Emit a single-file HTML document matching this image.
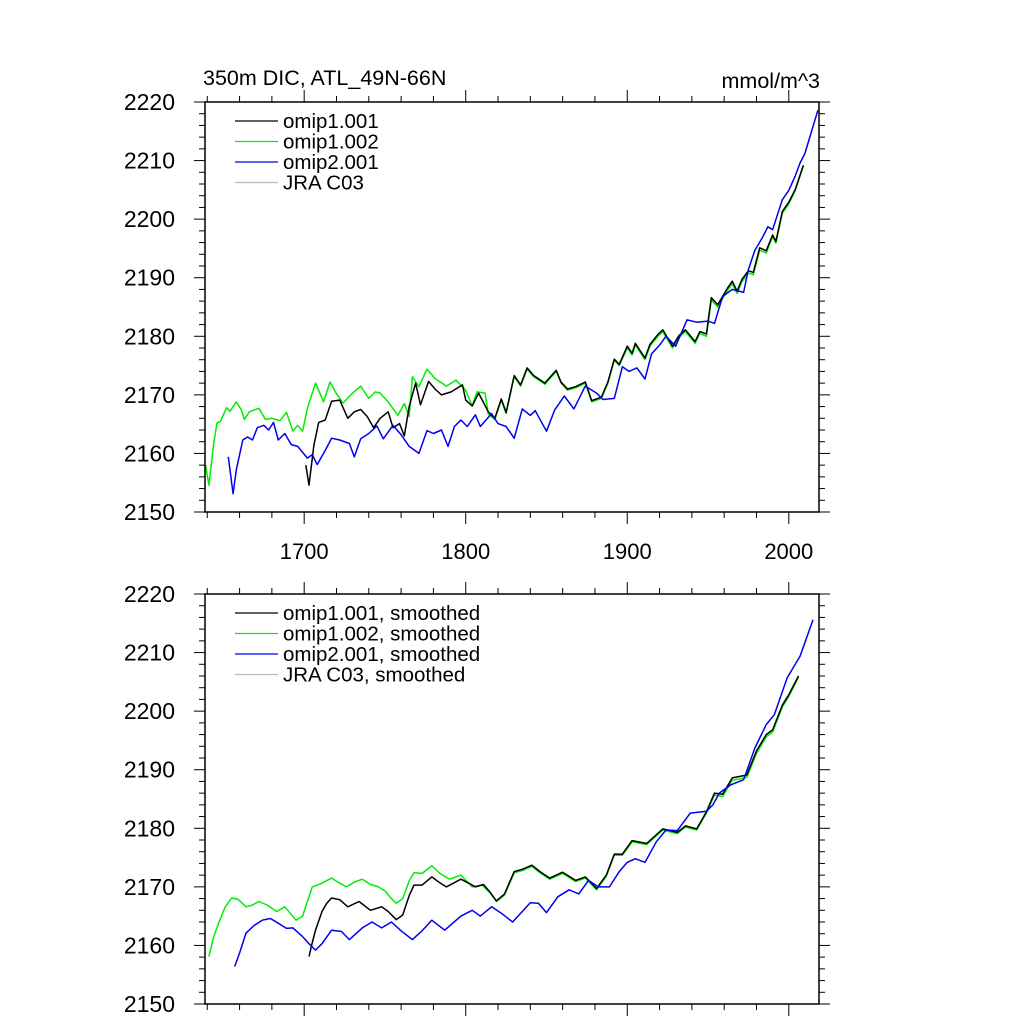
<!DOCTYPE html>
<html><head><meta charset="utf-8"><style>
html,body{margin:0;padding:0;background:#fff}
svg{display:block;font-family:"Liberation Sans",sans-serif}
</style></head><body>
<svg id="chart" width="1024" height="1024" viewBox="0 0 1024 1024" xmlns="http://www.w3.org/2000/svg">
<text x="203" y="85" font-size="21.5">350m DIC, ATL_49N-66N</text>
<text x="820" y="88" font-size="21.5" text-anchor="end">mmol/m^3</text>
</svg>
<script>
// ---- data ----
const yTicks = [2150,2160,2170,2180,2190,2200,2210,2220];
const xTicks = [1700,1800,1900,2000];
const legendTop = ["omip1.001","omip1.002","omip2.001","JRA C03"];
const legendBottom = ["omip1.001, smoothed","omip1.002, smoothed","omip2.001, smoothed","JRA C03, smoothed"];

const greenRawYears = [1639,1641,1644,1646,1648,1652,1654,1658,1661,1663,1666,1672,1676,1680,1685,1689,1693,1696,1699,1702,1707,1712,1716,1720,1724,1730,1735,1740,1744,1747,1752,1758,1762,1765,1767,1771,1776,1781,1788,1794,1800,1804,1807,1812,1814,1818,1822,1825,1830,1834,1838,1842,1849,1856,1859,1863,1868,1874,1878,1884,1888,1892,1895,1900,1903,1905,1911,1914,1919,1922,1928,1932,1936,1942,1945,1949,1952,1956,1962,1965,1968,1971,1975,1978,1982,1986,1990,1992,1996,2000,2004,2009];
const greenRawValues = [2158,2154.6,2161.7,2165.2,2165.4,2167.8,2167.2,2168.8,2167.5,2165.8,2167.1,2167.7,2165.8,2166,2165.6,2167,2163.8,2164.8,2163.8,2167.7,2172,2168.8,2172.2,2170.2,2168.6,2170.3,2171.5,2169.4,2170.5,2170.3,2168.8,2166.5,2168.5,2166.3,2173.1,2171.4,2174.4,2172.8,2171.5,2172.5,2170.8,2168.1,2170.5,2170.3,2166.7,2165.8,2169.1,2166.8,2173.1,2171.5,2174.4,2173.1,2171.8,2174,2172,2170.8,2171.2,2172,2168.8,2169.4,2172,2175.9,2175,2178,2176.8,2178.5,2176,2178.3,2180,2180.8,2178,2179.8,2180.8,2178.8,2180.5,2180,2186.2,2185,2187.8,2189,2187.3,2189.3,2190.8,2190.5,2194.7,2194.2,2197,2195.9,2201,2202.6,2204.9,2209];

const blackRawYears = [1701,1703,1706,1709,1713,1717,1722,1727,1731,1735,1739,1743,1747,1752,1755,1759,1762,1765,1769,1772,1777,1781,1785,1791,1798,1800,1804,1808,1814,1818,1822,1825,1830,1834,1838,1842,1849,1856,1859,1863,1868,1874,1878,1884,1888,1892,1895,1900,1903,1905,1911,1914,1919,1922,1928,1932,1936,1942,1945,1949,1952,1956,1962,1965,1968,1971,1975,1978,1982,1986,1990,1992,1996,2000,2004,2009];
const blackRawValues = [2158,2154.6,2161.4,2165.3,2165.7,2168.9,2169.1,2166,2167.1,2167.5,2166.3,2164.4,2166,2167.1,2164.4,2165.1,2163,2168,2172,2168.3,2172.3,2171,2170,2170.5,2171.7,2169.1,2168.1,2170.3,2167.1,2166,2169.3,2167,2173.3,2171.7,2174.6,2173.3,2172,2174.2,2172.2,2171,2171.4,2172.2,2169,2169.6,2172.2,2176.1,2175.2,2178.3,2177.1,2178.8,2176.3,2178.6,2180.3,2181.1,2178.3,2180.1,2181.1,2179.1,2180.8,2180.4,2186.6,2185.4,2188.2,2189.4,2187.7,2189.7,2191.2,2190.9,2195.1,2194.6,2197.3,2196.2,2201.3,2202.9,2205.1,2209.2];

const blueRawYears = [1653,1656,1658,1662,1665,1668,1671,1675,1678,1681,1684,1688,1692,1696,1702,1705,1708,1713,1717,1722,1728,1731,1735,1740,1745,1749,1755,1760,1765,1771,1776,1780,1785,1789,1793,1797,1801,1806,1809,1816,1820,1825,1830,1835,1840,1843,1850,1855,1861,1867,1874,1881,1885,1892,1897,1901,1906,1911,1915,1920,1924,1930,1937,1943,1950,1954,1959,1965,1972,1975,1979,1984,1987,1990,1996,2000,2004,2007,2010,2013,2018];
const blueRawValues = [2159.4,2153.1,2157.2,2162.3,2162.8,2162.3,2164.4,2164.8,2164,2165.3,2162.3,2163.4,2161.5,2161.2,2159.2,2159.8,2158.1,2160.5,2162.6,2162.3,2161.7,2159.4,2162.5,2163.4,2164.7,2162.5,2164.8,2163.2,2161.2,2160,2163.9,2163.4,2164,2161.2,2164.6,2165.7,2164.6,2166.6,2164.6,2166.8,2165.1,2164.6,2162.6,2167.6,2166.5,2167.3,2163.8,2167.4,2169.8,2167.6,2171.5,2170.3,2169.2,2169.4,2174.8,2174,2174.6,2172.7,2177,2178.5,2180,2178.3,2182.8,2182.4,2182.6,2182.2,2186.8,2188,2187.5,2191.4,2194.7,2197,2198.7,2198.2,2203.3,2204.9,2207.4,2209.6,2211.2,2214,2218.6];

const greenSmoothYears = [1641,1644,1647,1651,1655,1659,1664,1668,1672,1677,1683,1688,1695,1699,1702,1705,1710,1717,1721,1726,1731,1736,1741,1746,1750,1754,1757,1761,1765,1768,1773,1779,1784,1790,1797,1804,1810,1815,1819,1824,1830,1835,1841,1846,1852,1860,1868,1874,1881,1887,1892,1897,1903,1912,1922,1931,1936,1943,1949,1954,1959,1965,1974,1980,1986,1990,1996,2000,2006];
const greenSmoothValues = [2158.1,2161.5,2163.8,2166.5,2168.1,2167.9,2166.6,2166.9,2167.5,2166.9,2165.8,2166.6,2164.3,2165,2167.5,2170,2170.5,2171.5,2170.8,2170,2170.8,2171.3,2170.4,2170,2169.3,2168,2167.2,2168,2171,2172.4,2172.3,2173.6,2172.3,2171.3,2172,2170,2170.3,2169,2167.5,2168.6,2172.4,2172.8,2173.5,2172.4,2171.3,2172.3,2170.9,2171.5,2169.5,2171.8,2175.4,2175.4,2177.7,2177.2,2179.7,2179.1,2180.2,2179.7,2182.6,2185.7,2185.4,2188.2,2188.7,2192.8,2195.6,2196.4,2200.7,2202.5,2205.8];

const blackSmoothYears = [1703,1705,1707,1711,1714,1717,1722,1727,1734,1741,1748,1752,1757,1761,1765,1768,1773,1779,1784,1788,1797,1802,1806,1811,1815,1819,1824,1830,1835,1841,1846,1852,1860,1868,1874,1881,1887,1892,1897,1903,1912,1922,1931,1936,1943,1949,1954,1959,1965,1974,1980,1986,1990,1996,2000,2006];
const blackSmoothValues = [2158.1,2160.5,2162.6,2165.8,2167.2,2168.1,2167.8,2166.6,2167.5,2166,2166.6,2165.8,2164.4,2165.2,2168.5,2170.3,2170.3,2171.7,2170.7,2170,2171.3,2170.6,2170,2170.4,2169.1,2167.6,2168.8,2172.6,2173,2173.7,2172.6,2171.5,2172.5,2171.1,2171.7,2169.7,2172,2175.6,2175.6,2177.9,2177.4,2179.9,2179.3,2180.4,2179.9,2182.8,2186,2185.8,2188.6,2189.1,2193.2,2196,2196.8,2201,2202.8,2206];

const blueSmoothYears = [1657,1660,1664,1669,1674,1679,1684,1689,1693,1699,1703,1707,1711,1717,1723,1728,1736,1742,1748,1754,1760,1767,1773,1779,1787,1797,1804,1809,1816,1822,1829,1835,1840,1845,1850,1857,1864,1870,1876,1882,1889,1895,1900,1905,1911,1918,1924,1931,1939,1949,1953,1957,1964,1972,1979,1986,1991,1999,2007,2015];
const blueSmoothValues = [2156.4,2158.7,2162.1,2163.4,2164.3,2164.6,2163.8,2162.9,2163,2161.5,2160.3,2159.2,2160.3,2162.6,2162.4,2161,2163,2164,2163,2164,2162.5,2161,2162.5,2164.3,2162.6,2165,2166,2165,2166.6,2165.5,2164,2165.8,2167.3,2167.2,2165.6,2168.3,2169.5,2168.8,2171.1,2170,2170,2172.6,2174.2,2174.8,2174.2,2177.7,2179.7,2179.6,2182.6,2182.9,2184,2186,2187.4,2188.3,2193.7,2197.7,2199.4,2205.7,2209.4,2215.6];

// ---- layout ----
const NS = "http://www.w3.org/2000/svg";
const svg = document.getElementById("chart");
const X0 = 205, X1 = 819, YMIN = 1638.6, YMAX = 2018.7;
function xs(yr){ return X0 + (yr - YMIN) / (YMAX - YMIN) * (X1 - X0); }
function mk(tag, attrs, parent){
  const e = document.createElementNS(NS, tag);
  for (const k in attrs) e.setAttribute(k, attrs[k]);
  (parent || svg).appendChild(e);
  return e;
}

function panel(top, bottom, showXLabels, legend, series, name){
  const g = mk("g", {});
  
  
  const ys = v => bottom - (v - 2150) / 70 * (bottom - top);
  for (let v = 2150; v <= 2220; v += 2) {
    const major = v % 10 === 0;
    const len = major ? 11 : 6;
    const y = ys(v);
    mk("line", {x1: X0 - len, y1: y, x2: X0, y2: y, stroke: "#000", "stroke-width": 1}, g);
    mk("line", {x1: X1, y1: y, x2: X1 + len, y2: y, stroke: "#000", "stroke-width": 1}, g);
  }
  yTicks.forEach(v => {
    const t = mk("text", {x: 175, y: ys(v) + 8, "font-size": 23, "text-anchor": "end"}, g);
    t.textContent = v;
    
    
  });
  for (let yr = 1640; yr <= 2010; yr += 20) {
    const major = yr % 100 === 0;
    const len = major ? 12 : 6;
    const x = xs(yr);
    mk("line", {x1: x, y1: bottom, x2: x, y2: bottom + len, stroke: "#000", "stroke-width": 1}, g);
    mk("line", {x1: x, y1: top - len, x2: x, y2: top, stroke: "#000", "stroke-width": 1}, g);
  }
  if (showXLabels) {
    xTicks.forEach(yr => {
      const t = mk("text", {x: xs(yr), y: bottom + 47, "font-size": 22, "text-anchor": "middle"}, g);
      t.textContent = yr;
      
      
    });
  }
  series.forEach(s => {
    const d = s.years.map((yr, i) => (i ? "L" : "M") + xs(yr).toFixed(1) + " " + ys(s.values[i]).toFixed(1)).join(" ");
    const p = mk("path", {d: d, fill: "none", stroke: s.color, "stroke-width": 1.5, "stroke-linejoin": "round"}, g);
    
    
  });
  const f = mk("rect", {x: X0, y: top, width: X1 - X0, height: bottom - top, fill: "none", stroke: "#000", "stroke-width": 1.5}, g);
  
  
  const colors = ["#000", "#00ee00", "#0000ee", "#bbbbbb"];
  legend.forEach((lbl, i) => {
    const y = top + 19 + i * 20.5;
    const l = mk("line", {x1: 235, y1: y, x2: 278, y2: y, stroke: colors[i], "stroke-width": 1.3}, g);
    
    
    const t = mk("text", {x: 283, y: y + 7, "font-size": 20.5}, g);
    t.textContent = lbl;
    
    
  });
}

panel(102, 512, true, legendTop, [
  {years: greenRawYears, values: greenRawValues, color: "#00ee00", name: "omip1-002-line"},
  {years: blackRawYears, values: blackRawValues, color: "#000", name: "omip1-001-line"},
  {years: blueRawYears, values: blueRawValues, color: "#0000ee", name: "omip2-001-line"}
], "top-panel");

panel(594, 1004, false, legendBottom, [
  {years: greenSmoothYears, values: greenSmoothValues, color: "#00ee00", name: "omip1-002-smoothed-line"},
  {years: blackSmoothYears, values: blackSmoothValues, color: "#000", name: "omip1-001-smoothed-line"},
  {years: blueSmoothYears, values: blueSmoothValues, color: "#0000ee", name: "omip2-001-smoothed-line"}
], "bottom-panel");
</script>
</body></html>
